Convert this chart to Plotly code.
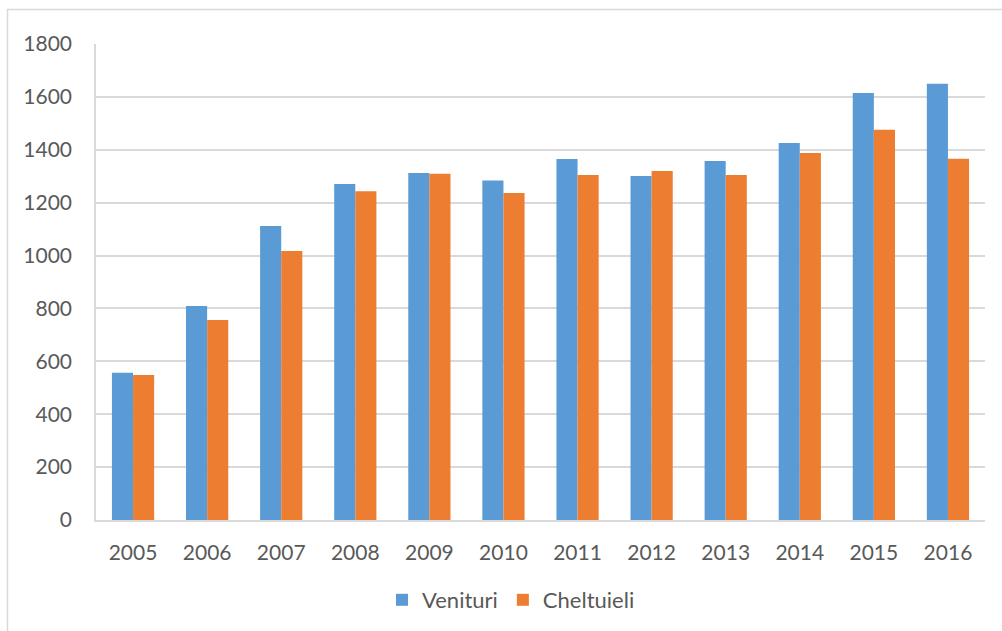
import plotly.graph_objects as go

years = ["2005", "2006", "2007", "2008", "2009", "2010", "2011", "2012", "2013", "2014", "2015", "2016"]
venituri = [557, 809, 1112, 1271, 1312, 1284, 1365, 1301, 1358, 1426, 1615, 1650]
cheltuieli = [548, 756, 1017, 1243, 1309, 1237, 1305, 1320, 1305, 1388, 1476, 1366]
y_ticks = [0, 200, 400, 600, 800, 1000, 1200, 1400, 1600, 1800]

FONT = "Lato, Calibri, Carlito, sans-serif"
TXT = "#595959"
GRID = "#d9d9d9"

fig = go.Figure()
fig.add_trace(go.Bar(x=years, y=venituri, name="Venituri", marker=dict(color="#5b9bd5", line=dict(width=0))))
fig.add_trace(go.Bar(x=years, y=cheltuieli, name="Cheltuieli", marker=dict(color="#ed7d31", line=dict(width=0))))

W, H = 1002, 631
L, R, T, B = 96, W - 985, 44, H - 520
pw, ph = W - L - R, H - T - B

def px_x(p):
    return (p - L) / pw

def px_y(p):
    return (H - B - p) / ph

fig.update_layout(
    width=W, height=H,
    margin=dict(l=L, r=R, t=T, b=B, autoexpand=False),
    paper_bgcolor="white", plot_bgcolor="white",
    barmode="group", bargap=0.43, bargroupgap=0,
    font=dict(family=FONT, size=21, color=TXT),
    showlegend=True,
    legend=dict(orientation="h", x=px_x(511), xanchor="center", y=px_y(600), yanchor="middle",
                font=dict(family=FONT, size=22, color=TXT), itemwidth=30, traceorder="normal"),
    xaxis=dict(showgrid=False, showline=True, linecolor=GRID, linewidth=1.5,
               ticks="", tickfont=dict(family=FONT, size=21, color=TXT), ticklabelstandoff=13),
    yaxis=dict(range=[0, 1800], tickvals=y_ticks, showgrid=True, gridcolor=GRID, gridwidth=1.5,
               showline=True, linecolor=GRID, linewidth=1.5, zeroline=False, ticks="",
               tickfont=dict(family=FONT, size=21, color=TXT), ticklabelstandoff=18),
    shapes=[
        dict(type="line", xref="paper", yref="paper", x0=px_x(7), x1=px_x(1002), y0=px_y(9.5), y1=px_y(9.5),
             line=dict(color=GRID, width=1.5), layer="below"),
        dict(type="line", xref="paper", yref="paper", x0=px_x(7.5), x1=px_x(7.5), y0=px_y(9), y1=px_y(631),
             line=dict(color=GRID, width=1.5), layer="below"),
    ],
)

fig.write_html("out.html", config={"displayModeBar": False},
               post_script="document.body.style.margin='0';document.body.style.overflow='hidden';")
